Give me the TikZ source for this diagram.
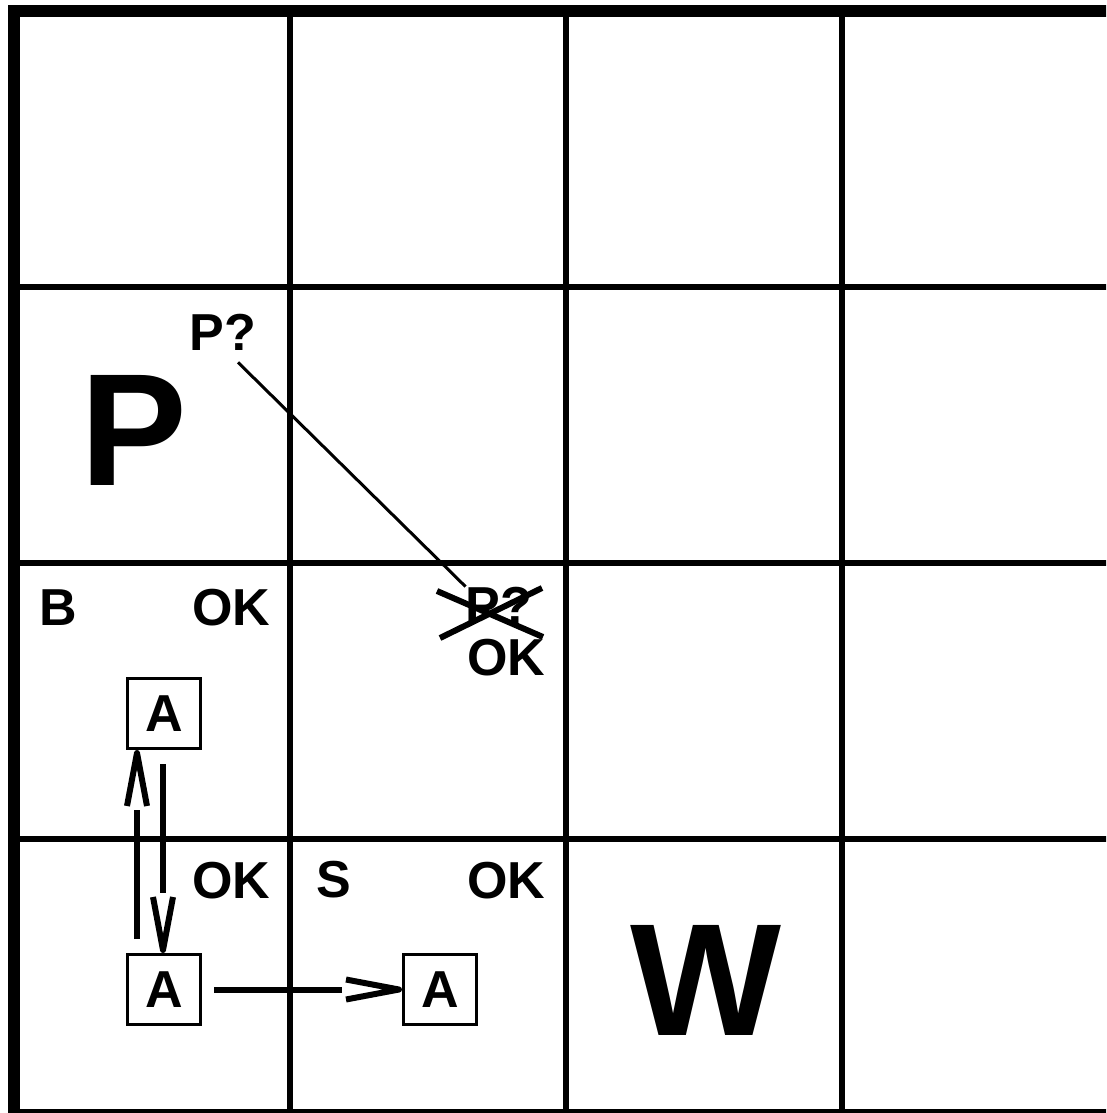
\documentclass[tikz,border=0pt]{standalone}
\usepackage{fontspec}
\setmainfont{Liberation Sans}
\usetikzlibrary{decorations.markings}

\begin{document}
\begin{tikzpicture}[x=1pt, y=-1pt,
  every node/.style={font=\fontsize{52}{52}\selectfont\bfseries, inner sep=0pt},
  big/.style={font=\fontsize{160}{160}\selectfont\bfseries},
  agent/.style={draw, line width=3pt, minimum width=73pt, minimum height=70pt},
  move/.style={line width=6pt, shorten >=60pt, postaction={decorate},
    decoration={markings, mark=at position 1 with {
      \draw[line width=6pt, shorten >=0pt, line join=round] (-56,10) -- (-3,0) -- (-56,-10);}}},
  link/.style={line width=3pt},
  strike/.style={line width=6pt},
  gridline/.style={line width=6pt},
]
  \useasboundingbox (0,0) rectangle (1106,1113);
  \clip (0,0) rectangle (1106,1113);
  % Grid
  \foreach \k in {1,2,3} {
    \draw[gridline] ({14+276*\k},11) -- ({14+276*\k},1115);
    \draw[gridline] (14,{11+276*\k}) -- (1118,{11+276*\k});
  }
  \draw[line width=12pt] (14,11) rectangle (1118,1115);
  % Nodes
  \node[big] (pit) at (134,430) {P};
  \node[big] (wumpus) at (706,980) {W};
  \node (pq1) at (223,332) {P?};
  \node (breeze) at (58,608) {B};
  \node (ok1) at (231,608) {OK};
  \node (pq2) at (499,605) {P?};
  \node (ok2) at (506,658) {OK};
  \node (ok3) at (231,881) {OK};
  \node (stench) at (334,880) {S};
  \node (ok4) at (506,881) {OK};
  % Agent positions
  \node[agent] (a1) at (164,713.5) {A};
  \node[agent] (a2) at (164,989.5) {A};
  \node[agent] (a3) at (440,989.5) {A};
  % Moves
  \draw[move] ([shift={(-27,-14)}]a2.north) -- ([shift={(-27,0)}]a1.south);
  \draw[move] ([shift={(-1,14)}]a1.south) -- ([shift={(-1,0)}]a2.north);
  \draw[move] ([shift={(12,0)}]a2.east) -- (a3.west);
  % Inference: pit moved, crossed out
  \draw[link] ([shift={(15,12)}]pq1.south) -- (pq2.north west);
  \draw[strike] ([shift={(-62,-14)}]pq2.center) -- ([shift={(44,32)}]pq2.center);
  \draw[strike] ([shift={(-59,33)}]pq2.center) -- ([shift={(43,-17)}]pq2.center);
\end{tikzpicture}
\end{document}
